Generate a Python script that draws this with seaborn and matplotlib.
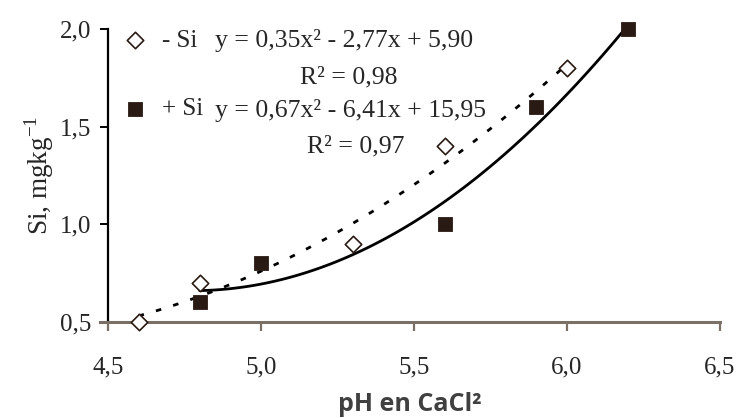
import numpy as np
import pandas as pd
import matplotlib
matplotlib.use("Agg")
import matplotlib.pyplot as plt
import seaborn as sns


# DATA

ph_minus = [4.6, 4.8, 5.3, 5.6, 6.0]
si_minus = [0.5, 0.7, 0.9, 1.4, 1.8]

ph_plus = [4.8, 5.0, 5.6, 5.9, 6.2]
si_plus = [0.6, 0.8, 1.0, 1.6, 2.0]

x_ticks = [4.5, 5.0, 5.5, 6.0, 6.5]
y_ticks = [0.5, 1.0, 1.5, 2.0]

labels = ["- Si", "+ Si"]
eq_minus = "y = 0,35x² - 2,77x + 5,90"
r2_minus = "R² = 0,98"
eq_plus = "y = 0,67x² - 6,41x + 15,95"
r2_plus = "R² = 0,97"


# STYLE

sns.set_style("white")
serif = ["Liberation Serif", "DejaVu Serif"]
plt.rcParams["font.family"] = serif
plt.rcParams["mathtext.fontset"] = "custom"
plt.rcParams["mathtext.rm"] = "Liberation Serif"
FS = 18
dark = "#2a1a14"
grey_axis = "#7a7068"

df_minus = pd.DataFrame({"ph": ph_minus, "si": si_minus})
df_plus = pd.DataFrame({"ph": ph_plus, "si": si_plus})

fig = plt.figure(figsize=(7.39, 4.18), dpi=100)
# axes box in pixels: x 100..720, y 29..322
ax = fig.add_axes([100 / 739, 1 - 322 / 418, 620 / 739, 293 / 418])

# trend lines (2nd order fit)
sns.regplot(data=df_minus, x="ph", y="si", order=2, ci=None, scatter=False, ax=ax,
            line_kws={"color": "black", "lw": 2, "linestyle": (0, (2.0, 4.5))})
sns.regplot(data=df_plus, x="ph", y="si", order=2, ci=None, scatter=False, ax=ax,
            line_kws={"color": "black", "lw": 2})

# points
sns.scatterplot(data=df_minus, x="ph", y="si", marker="D", s=70, color="white",
                edgecolor=dark, linewidth=1.2, ax=ax, zorder=5, clip_on=False,
                label=labels[0])
sns.scatterplot(data=df_plus, x="ph", y="si", marker="s", s=100, color=dark,
                edgecolor=dark, linewidth=0.6, ax=ax, zorder=5, clip_on=False,
                label=labels[1])

ax.set_xlim(4.474, 6.5)
ax.set_ylim(0.5, 2.0)
ax.set_xticks(x_ticks)
ax.set_xticklabels([f"{v:.1f}".replace(".", ",") for v in x_ticks])
ax.set_yticks(y_ticks)
ax.set_yticklabels([f"{v:.1f}".replace(".", ",") for v in y_ticks])

for s in ["top", "right"]:
    ax.spines[s].set_visible(False)
ax.spines["left"].set_position(("data", 4.5))
ax.spines["left"].set_color("black")
ax.spines["left"].set_linewidth(1.6)
ax.spines["bottom"].set_color(grey_axis)
ax.spines["bottom"].set_linewidth(2.2)

ax.tick_params(axis="y", direction="out", length=6, width=1.4, color="black",
               labelsize=FS, pad=6, left=True)
ax.tick_params(axis="x", direction="out", length=6.5, width=1.6, color=grey_axis,
               labelsize=FS, pad=18, bottom=True)

ax.set_xlabel("pH en CaCl²", family=["Open Sans", "DejaVu Sans"], fontweight="bold",
              fontsize=18, color="#404040", labelpad=10)
ax.set_ylabel("Si, mgkg$^{-1}$", fontsize=19.5, labelpad=3)

ax.legend(loc="upper left", bbox_to_anchor=(0.02, 1.033), frameon=False,
          fontsize=FS, labelspacing=1.84, handletextpad=0.58,
          handlelength=1.0, borderaxespad=0)

# equations (baselines)
fig.text(215 / 739, 1 - 47 / 418, eq_minus, fontsize=18.5, va="baseline", ha="left")
fig.text(300 / 739, 1 - 83 / 418, r2_minus, fontsize=18.5, va="baseline", ha="left")
fig.text(215 / 739, 1 - 117 / 418, eq_plus, fontsize=18.5, va="baseline", ha="left")
fig.text(307 / 739, 1 - 152 / 418, r2_plus, fontsize=18.5, va="baseline", ha="left")

fig.savefig("out.png", dpi=100)
